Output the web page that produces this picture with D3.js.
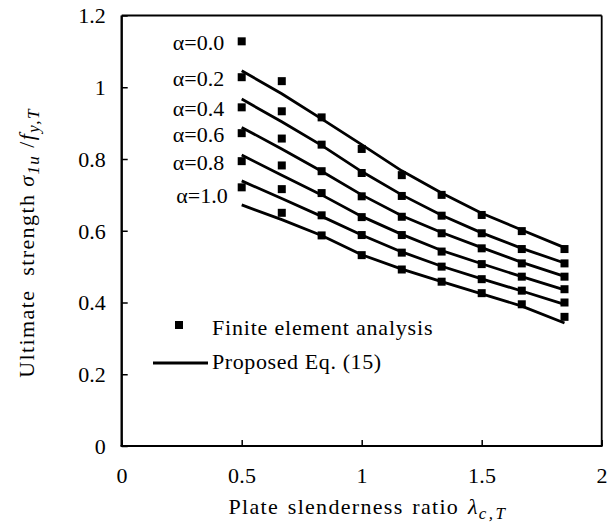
<!DOCTYPE html>
<html>
<head>
<meta charset="utf-8">
<script src="https://cdn.jsdelivr.net/npm/d3@7"></script>
<style>
  body { margin: 0; background: #fff; }
  svg text { font-family: "Liberation Serif", "Times New Roman", serif; fill: #000; }
</style>
</head>
<body>
<div id="chart"></div>
<script>
// slenderness ratios
const lambdaValues = [0.5, 0.667, 0.833, 1.0, 1.167, 1.333, 1.5, 1.667, 1.845];
const alphaLabels = ["α=0.0", "α=0.2", "α=0.4", "α=0.6", "α=0.8", "α=1.0"];

// finite element analysis, one array per alpha
const fea00 = [1.128, 1.017, 0.916, 0.828, 0.755, 0.700, 0.644, 0.599, 0.549];
const fea02 = [1.028, 0.933, 0.840, 0.761, 0.697, 0.642, 0.593, 0.549, 0.509];
const fea04 = [0.944, 0.857, 0.766, 0.696, 0.639, 0.593, 0.551, 0.509, 0.472];
const fea06 = [0.872, 0.782, 0.705, 0.638, 0.588, 0.542, 0.507, 0.472, 0.437];
const fea08 = [0.794, 0.716, 0.643, 0.588, 0.539, 0.500, 0.465, 0.433, 0.400];
const fea10 = [0.721, 0.650, 0.587, 0.532, 0.492, 0.458, 0.426, 0.395, 0.360];

// proposed Eq. (15)
const eq00 = [1.046, 0.982, 0.912, 0.840, 0.767, 0.705, 0.649, 0.602, 0.553];
const eq02 = [0.967, 0.904, 0.838, 0.765, 0.700, 0.643, 0.594, 0.551, 0.510];
const eq04 = [0.888, 0.828, 0.766, 0.700, 0.642, 0.595, 0.553, 0.512, 0.473];
const eq06 = [0.811, 0.755, 0.700, 0.640, 0.590, 0.545, 0.508, 0.472, 0.435];
const eq08 = [0.739, 0.690, 0.640, 0.588, 0.541, 0.501, 0.466, 0.432, 0.395];
const eq10 = [0.672, 0.631, 0.587, 0.533, 0.493, 0.458, 0.424, 0.390, 0.343];

const xTicks = [0, 0.5, 1, 1.5, 2];
const yTicks = [0, 0.2, 0.4, 0.6, 0.8, 1, 1.2];

const feaSeries = [fea00, fea02, fea04, fea06, fea08, fea10];
const eqSeries = [eq00, eq02, eq04, eq06, eq08, eq10];

const FONT = '"Liberation Serif", "Times New Roman", serif';

const W = 611, H = 531;
const margin = { top: 15.5, right: 9.3, bottom: 85, left: 121.7 };
const width = W - margin.left - margin.right,
    height = H - margin.top - margin.bottom;

const svg = d3.select("#chart")
    .append("svg")
    .attr("width", W)
    .attr("height", H)
    .attr("font-family", FONT);

const g = svg.append("g")
    .attr("transform", `translate(${margin.left},${margin.top})`);

const x = d3.scaleLinear().domain([0, 2]).range([0, width]);
const y = d3.scaleLinear().domain([0, 1.2]).range([height, 0]);

// X axis (ticks inside)
const xAxis = g.append("g")
    .attr("transform", `translate(0,${height})`)
    .call(d3.axisBottom(x).tickValues(xTicks).tickSize(-6).tickPadding(21).tickFormat(d3.format("")))
    .attr("font-family", FONT);
xAxis.select(".domain").remove();
xAxis.selectAll("text").style("font-size", "22px").style("letter-spacing", "0.3px");
xAxis.selectAll("line").attr("stroke-width", 1.5);

// Y axis (ticks inside)
const yAxis = g.append("g")
    .call(d3.axisLeft(y).tickValues(yTicks).tickSize(-6).tickPadding(16).tickFormat(d3.format("")))
    .attr("font-family", FONT);
yAxis.select(".domain").remove();
yAxis.selectAll("text").style("font-size", "22px").attr("dy", "0.34em");
yAxis.selectAll("line").attr("stroke-width", 1.5);

// frame
g.append("line").attr("x1", 0).attr("x2", width).attr("y1", 0).attr("y2", 0)
    .attr("stroke", "#000").attr("stroke-width", 1.8);
g.append("line").attr("x1", width).attr("x2", width).attr("y1", 0).attr("y2", height)
    .attr("stroke", "#000").attr("stroke-width", 1.8);
g.append("line").attr("x1", 0).attr("x2", 0).attr("y1", 0).attr("y2", height)
    .attr("stroke", "#000").attr("stroke-width", 2.4);
g.append("line").attr("x1", -1.2).attr("x2", width + 0.9).attr("y1", height).attr("y2", height)
    .attr("stroke", "#000").attr("stroke-width", 2.2);

// lines
const line = d3.line()
    .x((d, i) => x(lambdaValues[i]))
    .y(d => y(d));

g.selectAll(".eq")
    .data(eqSeries)
    .enter()
    .append("path")
    .attr("class", "eq")
    .attr("fill", "none")
    .attr("stroke", "#000")
    .attr("stroke-width", 2.8)
    .attr("d", line);

// points
const sq = 8;
feaSeries.forEach(s => {
  g.selectAll(null)
      .data(s)
      .enter()
      .append("rect")
      .attr("x", (d, i) => x(lambdaValues[i]) - sq / 2)
      .attr("y", d => y(d) - sq / 2)
      .attr("width", sq)
      .attr("height", sq)
      .attr("fill", "#000");
});

// alpha labels, next to the first point of each series
g.selectAll(".alpha")
    .data(alphaLabels)
    .enter()
    .append("text")
    .attr("class", "alpha")
    .attr("text-anchor", "end")
    .attr("x", (d, i) => x(lambdaValues[0]) - (i === 5 ? 14 : 17.5))
    .attr("y", (d, i) => y(feaSeries[i][0]) + 8.5 + (i === 5 ? 7 : 0))
    .style("font-size", "22px")
    .text(d => d);

// legend
const lg = svg.append("g");
lg.append("rect")
    .attr("x", 175).attr("y", 321).attr("width", sq).attr("height", sq)
    .attr("fill", "#000");
lg.append("text")
    .attr("x", 212).attr("y", 335)
    .style("font-size", "22px")
    .style("letter-spacing", "0.8px")
    .text("Finite element analysis");
lg.append("line")
    .attr("x1", 153).attr("x2", 208).attr("y1", 363).attr("y2", 363)
    .attr("stroke", "#000").attr("stroke-width", 2.8);
lg.append("text")
    .attr("x", 212).attr("y", 369)
    .style("font-size", "22px")
    .style("letter-spacing", "0.6px")
    .text("Proposed Eq. (15)");

// X axis label
const xl = svg.append("text")
    .attr("text-anchor", "middle")
    .attr("x", 368)
    .attr("y", 514)
    .style("font-size", "22px")
    .style("letter-spacing", "1.3px")
    .style("word-spacing", "2px");
xl.append("tspan").text("Plate slenderness ratio ");
xl.append("tspan").style("font-style", "italic").text("λ");
xl.append("tspan").style("font-style", "italic").style("font-size", "17px")
    .style("letter-spacing", "2.5px").attr("dy", 5).text("c,T");

// Y axis label
const yl = svg.append("text")
    .attr("text-anchor", "middle")
    .attr("transform", `translate(34,243) rotate(-90)`)
    .style("font-size", "22px")
    .style("letter-spacing", "1.4px")
    .style("white-space", "pre");
yl.append("tspan").text("Ultimate  strength ");
yl.append("tspan").style("font-style", "italic").text("σ");
yl.append("tspan").style("font-style", "italic").style("font-size", "17px").attr("dy", 5).text("1u");
yl.append("tspan").attr("dy", -5).text(" /");
yl.append("tspan").style("font-style", "italic").text("f");
yl.append("tspan").style("font-style", "italic").style("font-size", "17px").attr("dy", 5).text("y,T");
</script>
</body>
</html>
